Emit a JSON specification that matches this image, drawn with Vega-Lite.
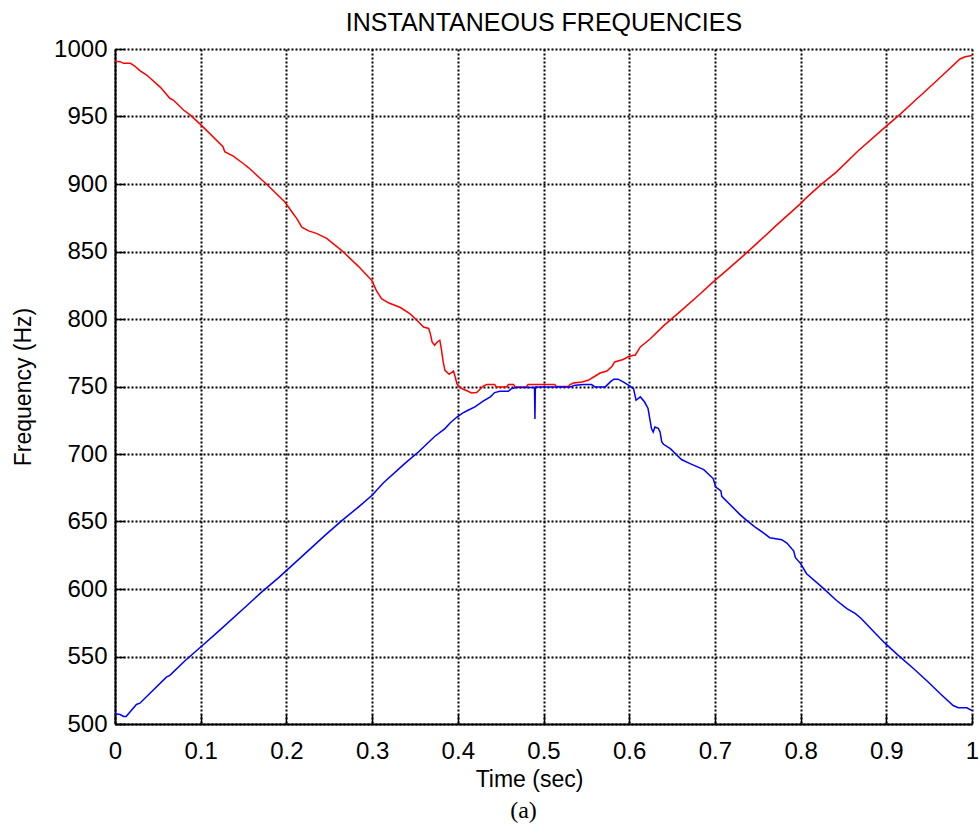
{
  "$schema": "https://vega.github.io/schema/vega-lite/v6.json",
  "width": 857,
  "height": 675,
  "autosize": {"type": "none"},
  "padding": {"left": 115, "top": 49, "right": 7, "bottom": 104},
  "background": "white",
  "config": {"view": {"stroke": null}, "font": "Liberation Sans"},
  "title": {
    "text": "(a)",
    "orient": "bottom",
    "font": "Liberation Serif",
    "fontSize": 24,
    "fontWeight": "normal",
    "color": "black",
    "offset": 8,
    "dx": -20
  },
  "datasets": {
    "red": [
      {"t": 0.000, "f": 991}, {"t": 0.006, "f": 990.6}, {"t": 0.010, "f": 989.4}, {"t": 0.018, "f": 989.4},
      {"t": 0.023, "f": 987.4}, {"t": 0.029, "f": 984}, {"t": 0.037, "f": 980.7}, {"t": 0.053, "f": 971.6},
      {"t": 0.064, "f": 963.5}, {"t": 0.068, "f": 962.2}, {"t": 0.080, "f": 954.8}, {"t": 0.088, "f": 951},
      {"t": 0.100, "f": 944}, {"t": 0.126, "f": 927.6}, {"t": 0.128, "f": 924}, {"t": 0.138, "f": 920.7},
      {"t": 0.150, "f": 915}, {"t": 0.156, "f": 912}, {"t": 0.176, "f": 900.4}, {"t": 0.198, "f": 886.8},
      {"t": 0.208, "f": 878}, {"t": 0.212, "f": 874.5}, {"t": 0.218, "f": 868}, {"t": 0.226, "f": 865.3},
      {"t": 0.235, "f": 863.4}, {"t": 0.247, "f": 859.7}, {"t": 0.265, "f": 850.5}, {"t": 0.284, "f": 839},
      {"t": 0.292, "f": 833.7}, {"t": 0.300, "f": 828.3}, {"t": 0.305, "f": 821}, {"t": 0.311, "f": 815},
      {"t": 0.319, "f": 812}, {"t": 0.333, "f": 808.5}, {"t": 0.344, "f": 804}, {"t": 0.352, "f": 799.3},
      {"t": 0.360, "f": 794}, {"t": 0.366, "f": 793}, {"t": 0.368, "f": 789}, {"t": 0.370, "f": 783},
      {"t": 0.373, "f": 780.6}, {"t": 0.376, "f": 783}, {"t": 0.379, "f": 784.3}, {"t": 0.381, "f": 777},
      {"t": 0.383, "f": 768}, {"t": 0.385, "f": 762}, {"t": 0.390, "f": 759}, {"t": 0.395, "f": 761.5},
      {"t": 0.397, "f": 757}, {"t": 0.399, "f": 752}, {"t": 0.403, "f": 749}, {"t": 0.410, "f": 747},
      {"t": 0.416, "f": 745.2}, {"t": 0.422, "f": 745.5}, {"t": 0.430, "f": 750.5}, {"t": 0.434, "f": 751.4},
      {"t": 0.443, "f": 751.4}, {"t": 0.445, "f": 749.7}, {"t": 0.457, "f": 749.7}, {"t": 0.459, "f": 751.4},
      {"t": 0.465, "f": 751.4}, {"t": 0.467, "f": 749.7}, {"t": 0.480, "f": 749.7}, {"t": 0.482, "f": 751.4},
      {"t": 0.513, "f": 751.4}, {"t": 0.515, "f": 750}, {"t": 0.529, "f": 750}, {"t": 0.531, "f": 751.4},
      {"t": 0.535, "f": 752.6}, {"t": 0.545, "f": 753.4}, {"t": 0.552, "f": 754.6}, {"t": 0.560, "f": 757.6},
      {"t": 0.566, "f": 760}, {"t": 0.574, "f": 761.5}, {"t": 0.580, "f": 765}, {"t": 0.583, "f": 768.2},
      {"t": 0.593, "f": 770}, {"t": 0.599, "f": 772}, {"t": 0.605, "f": 773.2}, {"t": 0.607, "f": 773.2},
      {"t": 0.613, "f": 779.3}, {"t": 0.624, "f": 785}, {"t": 0.640, "f": 794.9}, {"t": 0.659, "f": 805.3},
      {"t": 0.681, "f": 817.6}, {"t": 0.698, "f": 827.5}, {"t": 0.714, "f": 836.2}, {"t": 0.733, "f": 846.8},
      {"t": 0.749, "f": 856}, {"t": 0.772, "f": 869.5}, {"t": 0.799, "f": 884.9}, {"t": 0.805, "f": 888.8},
      {"t": 0.823, "f": 899.2}, {"t": 0.842, "f": 909}, {"t": 0.867, "f": 924.4}, {"t": 0.897, "f": 941.2},
      {"t": 0.916, "f": 951.6}, {"t": 0.932, "f": 960.9}, {"t": 0.947, "f": 969.6}, {"t": 0.965, "f": 980.2},
      {"t": 0.986, "f": 992.6}, {"t": 0.992, "f": 994.3}, {"t": 1.000, "f": 995.2}
    ],
    "blue": [
      {"t": 0.000, "f": 507.6}, {"t": 0.006, "f": 507}, {"t": 0.010, "f": 505.6}, {"t": 0.013, "f": 505.6},
      {"t": 0.025, "f": 514.5}, {"t": 0.029, "f": 515.4}, {"t": 0.060, "f": 534.7}, {"t": 0.064, "f": 536},
      {"t": 0.082, "f": 547}, {"t": 0.100, "f": 557}, {"t": 0.121, "f": 568.8}, {"t": 0.154, "f": 587.8},
      {"t": 0.171, "f": 597.7}, {"t": 0.191, "f": 608.4}, {"t": 0.198, "f": 612.5}, {"t": 0.216, "f": 622.9},
      {"t": 0.245, "f": 639.7}, {"t": 0.265, "f": 650.8}, {"t": 0.284, "f": 660.7}, {"t": 0.300, "f": 669.4},
      {"t": 0.313, "f": 678.5}, {"t": 0.338, "f": 692.9}, {"t": 0.354, "f": 701.5}, {"t": 0.373, "f": 713},
      {"t": 0.385, "f": 718.8}, {"t": 0.391, "f": 723}, {"t": 0.399, "f": 727.4}, {"t": 0.406, "f": 730.4},
      {"t": 0.412, "f": 732.4}, {"t": 0.420, "f": 734.9}, {"t": 0.430, "f": 739.3}, {"t": 0.438, "f": 742.3},
      {"t": 0.443, "f": 745.5}, {"t": 0.449, "f": 746.5}, {"t": 0.459, "f": 746.5}, {"t": 0.463, "f": 748.5},
      {"t": 0.469, "f": 749.3}, {"t": 0.4895, "f": 749.3}, {"t": 0.490, "f": 726}, {"t": 0.4905, "f": 749.7},
      {"t": 0.531, "f": 749.7}, {"t": 0.537, "f": 751}, {"t": 0.547, "f": 751.4}, {"t": 0.556, "f": 751.4},
      {"t": 0.560, "f": 749.7}, {"t": 0.572, "f": 749.7}, {"t": 0.578, "f": 753.4}, {"t": 0.582, "f": 755.4},
      {"t": 0.587, "f": 755.4}, {"t": 0.593, "f": 753.4}, {"t": 0.599, "f": 751}, {"t": 0.605, "f": 748.5},
      {"t": 0.608, "f": 739.8}, {"t": 0.613, "f": 742.3}, {"t": 0.618, "f": 738.5}, {"t": 0.622, "f": 733.7},
      {"t": 0.624, "f": 726.2}, {"t": 0.626, "f": 718.8}, {"t": 0.628, "f": 716.3}, {"t": 0.630, "f": 720},
      {"t": 0.634, "f": 719}, {"t": 0.636, "f": 716.3}, {"t": 0.638, "f": 709}, {"t": 0.640, "f": 707.2},
      {"t": 0.648, "f": 704}, {"t": 0.652, "f": 701.5}, {"t": 0.661, "f": 695.9}, {"t": 0.671, "f": 692.9},
      {"t": 0.687, "f": 688.4}, {"t": 0.698, "f": 681.8}, {"t": 0.701, "f": 675.5}, {"t": 0.707, "f": 672.6},
      {"t": 0.708, "f": 668.6}, {"t": 0.729, "f": 655.3}, {"t": 0.737, "f": 650.8}, {"t": 0.747, "f": 645.9},
      {"t": 0.757, "f": 641.4}, {"t": 0.764, "f": 638}, {"t": 0.778, "f": 636.5}, {"t": 0.784, "f": 634},
      {"t": 0.792, "f": 628.1}, {"t": 0.794, "f": 623.2}, {"t": 0.800, "f": 618.8}, {"t": 0.807, "f": 611.3},
      {"t": 0.825, "f": 601.4}, {"t": 0.842, "f": 591.5}, {"t": 0.854, "f": 585.4}, {"t": 0.864, "f": 581.7},
      {"t": 0.871, "f": 578}, {"t": 0.886, "f": 568}, {"t": 0.899, "f": 559.5}, {"t": 0.914, "f": 550.8},
      {"t": 0.932, "f": 540.9}, {"t": 0.947, "f": 532.2}, {"t": 0.963, "f": 522.4}, {"t": 0.978, "f": 513.7},
      {"t": 0.984, "f": 512}, {"t": 0.994, "f": 512}, {"t": 1.000, "f": 510}
    ]
  },
  "layer": [
    {
      "data": {"name": "red"},
      "mark": {"type": "line", "color": "#ff0000", "strokeWidth": 1.5, "clip": true},
      "encoding": {
        "x": {
          "field": "t", "type": "quantitative",
          "scale": {"domain": [0, 1], "nice": false, "zero": false},
          "axis": {
            "orient": "top",
            "title": "INSTANTANEOUS FREQUENCIES",
            "labels": false, "ticks": false, "domain": false, "grid": false,
            "titleFont": "Liberation Sans", "titleFontSize": 25, "titleFontWeight": "normal",
            "titleColor": "black", "titlePadding": 14
          }
        },
        "y": {
          "field": "f", "type": "quantitative",
          "scale": {"domain": [500, 1000], "nice": false, "zero": false}
        }
      }
    },
    {
      "data": {"name": "blue"},
      "mark": {"type": "line", "color": "#0000ff", "strokeWidth": 1.5, "clip": true},
      "encoding": {
        "x": {
          "field": "t", "type": "quantitative",
          "scale": {"domain": [0, 1], "nice": false, "zero": false},
          "axis": {
            "orient": "bottom",
            "title": "Time (sec)",
            "values": [0, 0.1, 0.2, 0.3, 0.4, 0.5, 0.6, 0.7, 0.8, 0.9, 1],
            "format": "~g",
            "labelFont": "Liberation Sans", "labelFontSize": 24, "labelColor": "black",
            "labelPadding": 25, "labelFlush": false, "labelOverlap": false,
            "tickSize": -10, "tickColor": "black", "tickWidth": 1.5,
            "domainColor": "black", "domainWidth": 2,
            "grid": true, "gridColor": "black", "gridOpacity": 1, "gridWidth": 2, "gridDash": [2, 2],
            "titleFont": "Liberation Sans", "titleFontSize": 23, "titleFontWeight": "normal",
            "titleColor": "black", "titlePadding": 5, "titleX": 414, "titleAlign": "center"
          }
        },
        "y": {
          "field": "f", "type": "quantitative",
          "scale": {"domain": [500, 1000], "nice": false, "zero": false},
          "axis": {
            "orient": "left",
            "title": "Frequency (Hz)",
            "values": [500, 550, 600, 650, 700, 750, 800, 850, 900, 950, 1000],
            "format": "d",
            "labelFont": "Liberation Sans", "labelFontSize": 24, "labelColor": "black",
            "labelPadding": 18, "labelFlush": false, "labelOverlap": false,
            "tickSize": -10, "tickColor": "black", "tickWidth": 1.5,
            "domainColor": "black", "domainWidth": 2,
            "grid": true, "gridColor": "black", "gridOpacity": 1, "gridWidth": 2, "gridDash": [2, 2],
            "titleFont": "Liberation Sans", "titleFontSize": 23, "titleFontWeight": "normal",
            "titleColor": "black", "titlePadding": 18
          }
        }
      }
    }
  ],
  "resolve": {"axis": {"x": "independent"}}
}
